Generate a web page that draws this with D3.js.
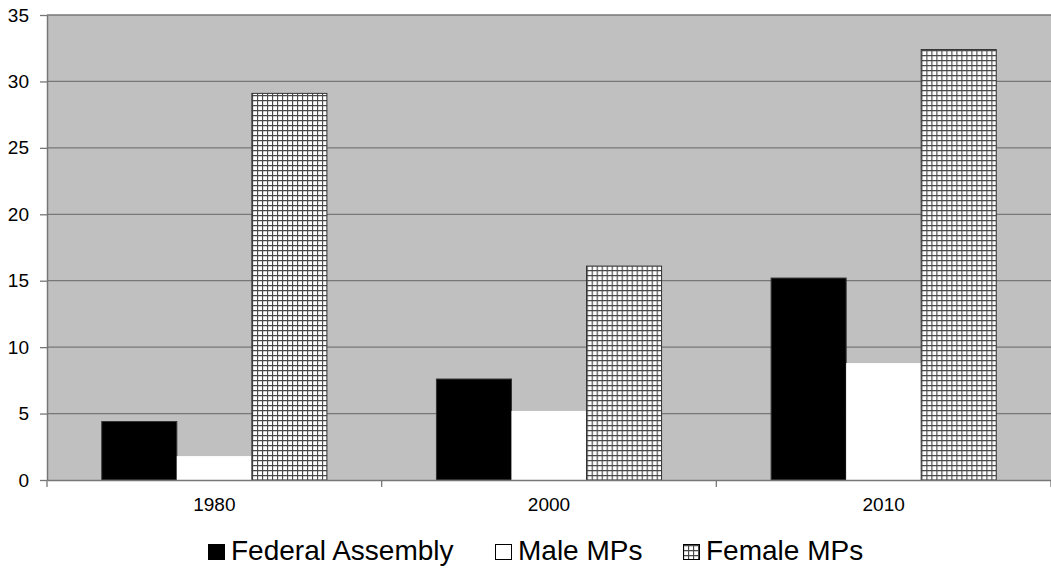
<!DOCTYPE html>
<html>
<head>
<meta charset="utf-8">
<script src="https://cdn.jsdelivr.net/npm/d3@7"></script>
<style>
  body { margin: 0; background: #fff; }
  text { font-family: "Liberation Sans", Arial, sans-serif; }
</style>
</head>
<body>
<svg id="chart" width="1051" height="568"></svg>
<script>
// data
const years = ["1980", "2000", "2010"];
const seriesNames = ["Federal Assembly", "Male MPs", "Female MPs"];
const federalAssembly = [4.4, 7.6, 15.2];
const maleMPs = [1.8, 5.2, 8.8];
const femaleMPs = [29.1, 16.1, 32.4];
const yTicks = [0, 5, 10, 15, 20, 25, 30, 35];

const values = [federalAssembly, maleMPs, femaleMPs];
const rows = years.map((y, i) => ({ year: y, vals: values.map(v => v[i]) }));

const svg = d3.select("#chart");
const margin = { left: 47, right: 0, top: 15, bottom: 88 };
const W = 1051, H = 568;

// checker pattern for the female bars
const defs = svg.append("defs");
const pat = defs.append("pattern")
    .attr("id", "grid")
    .attr("patternUnits", "userSpaceOnUse")
    .attr("width", 5).attr("height", 5);
pat.append("rect").attr("width", 5).attr("height", 5).attr("fill", "#fff");
pat.append("path").attr("d", "M0,0.5H5M0.5,0V5")
    .attr("stroke", "#4a4a4a").attr("stroke-width", 1.3);

const x = d3.scaleBand().domain(years)
    .range([margin.left, W - margin.right]);
const x1 = d3.scaleBand().domain(d3.range(3))
    .range([0, x.bandwidth()]).paddingOuter(0.73);
const y = d3.scaleLinear().domain([0, 35])
    .range([H - margin.bottom, margin.top]);

// plot background
svg.append("rect")
    .attr("x", margin.left).attr("y", margin.top)
    .attr("width", W - margin.left - margin.right)
    .attr("height", y(0) - margin.top)
    .attr("fill", "#c0c0c0");

// gridlines
svg.append("g").selectAll("line")
    .data(yTicks.filter(d => d > 0))
    .join("line")
    .attr("x1", margin.left).attr("x2", W)
    .attr("y1", d => y(d)).attr("y2", d => y(d))
    .attr("stroke", "#777").attr("stroke-width", 1.3);

const fills = ["#000", "#fff", "url(#grid)"];

const groups = svg.append("g").selectAll("g")
    .data(rows)
    .join("g")
    .attr("transform", d => `translate(${x(d.year)},0)`);

groups.selectAll("rect")
    .data(d => d.vals.map((v, i) => ({ v, i })))
    .join("rect")
    .attr("x", d => x1(d.i))
    .attr("width", x1.bandwidth())
    .attr("y", d => y(d.v))
    .attr("height", d => y(0) - y(d.v))
    .attr("fill", d => fills[d.i])
    .attr("stroke", d => d.i === 1 ? "none" : "#333")
    .attr("stroke-width", 1);

// y axis
const yAxis = svg.append("g")
    .attr("transform", `translate(${margin.left},0)`)
    .call(d3.axisLeft(y).tickValues(yTicks).tickSize(7).tickPadding(11).tickSizeOuter(0));
yAxis.select(".domain").attr("stroke", "#777").attr("stroke-width", 1.5);
yAxis.selectAll(".tick line").attr("stroke", "#777").attr("stroke-width", 1.3);
yAxis.selectAll("text").attr("font-size", 19).attr("fill", "#000");

// x axis
const xAxis = svg.append("g")
    .attr("transform", `translate(0,${y(0)})`)
    .call(d3.axisBottom(x).tickSize(0).tickPadding(18));
xAxis.select(".domain").attr("stroke", "#777").attr("stroke-width", 1.5);
xAxis.selectAll("text").attr("font-size", 19).attr("fill", "#000");
xAxis.selectAll(".sep")
    .data(d3.range(years.length + 1))
    .join("line")
    .attr("class", "sep")
    .attr("x1", i => margin.left + i * x.step())
    .attr("x2", i => margin.left + i * x.step())
    .attr("y1", 0).attr("y2", 7)
    .attr("stroke", "#777").attr("stroke-width", 1.3);

// legend
const legendX = [208, 495, 683];
const legend = svg.append("g").selectAll("g")
    .data(seriesNames)
    .join("g")
    .attr("transform", (d, i) => `translate(${legendX[i]},560)`);
legend.append("rect")
    .attr("x", 0.5).attr("y", -15.5).attr("width", 16).attr("height", 15)
    .attr("fill", (d, i) => fills[i])
    .attr("stroke", "#000").attr("stroke-width", 1);
legend.append("text")
    .attr("x", 23).attr("y", 0)
    .attr("font-size", 28)
    .text(d => d);
</script>
</body>
</html>
